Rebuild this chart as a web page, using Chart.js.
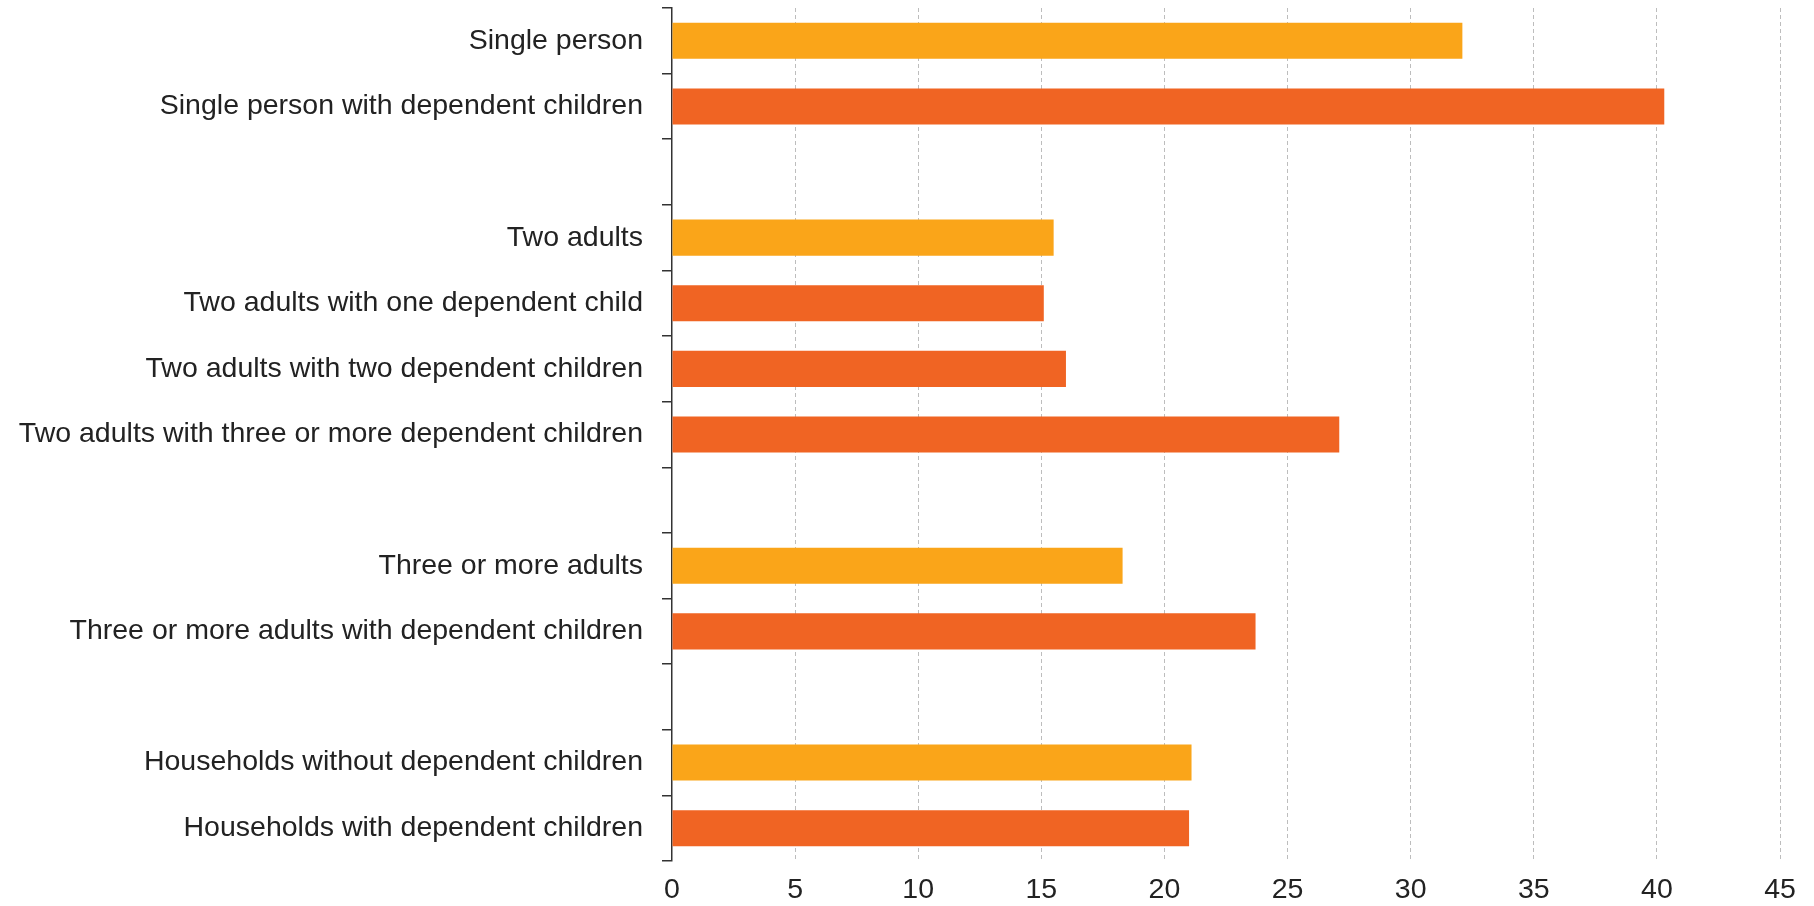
<!DOCTYPE html>
<html>
<head>
<meta charset="utf-8">
<script src="https://cdn.jsdelivr.net/npm/chart.js@4"></script>
<style>
html,body{margin:0;padding:0;background:#fff;}
#wrap{width:1814px;height:906px;position:relative;}
</style>
</head>
<body>
<div id="wrap"><canvas id="c" width="1814" height="906"></canvas></div>
<script>
// Household types (blank entries are the gaps between groups)
const categories = [
  "Single person",
  "Single person with dependent children",
  "",
  "Two adults",
  "Two adults with one dependent child",
  "Two adults with two dependent children",
  "Two adults with three or more dependent children",
  "",
  "Three or more adults",
  "Three or more adults with dependent children",
  "",
  "Households without dependent children",
  "Households with dependent children"
];
// Values (%)
const values = [32.1, 40.3, null, 15.5, 15.1, 16.0, 27.1, null, 18.3, 23.7, null, 21.1, 21.0];
// Whether the household has dependent children
const withChildren = [false, true, null, false, true, true, true, null, false, true, null, false, true];
// X axis ticks
const xTicks = [0, 5, 10, 15, 20, 25, 30, 35, 40, 45];

const COLOR_NO_CHILD = "#FAA519";
const COLOR_CHILD = "#F06423";
const FONT = "'Liberation Sans', Arial, sans-serif";

new Chart(document.getElementById("c"), {
  type: "bar",
  data: {
    labels: categories,
    datasets: [{
      data: values,
      backgroundColor: withChildren.map(w => w ? COLOR_CHILD : COLOR_NO_CHILD),
      borderWidth: 0,
      barPercentage: 0.55,
      categoryPercentage: 1.0
    }]
  },
  options: {
    indexAxis: "y",
    responsive: false,
    animation: false,
    devicePixelRatio: 1,
    layout: { padding: { top: 8, right: 34, bottom: 0, left: 0 } },
    plugins: { legend: { display: false }, tooltip: { enabled: false } },
    scales: {
      x: {
        type: "linear",
        min: xTicks[0],
        max: xTicks[xTicks.length - 1],
        afterBuildTicks: s => { s.ticks = xTicks.map(v => ({ value: v })); },
        afterFit: s => { s.height = 45; s.paddingLeft = 0; s.paddingRight = 0; },
        grid: {
          drawTicks: false,
          color: c => (c.tick && c.tick.value === 0) ? "rgba(0,0,0,0)" : "#bdbdbd",
          lineWidth: 1
        },
        border: { display: false, dash: [4, 3] },
        ticks: {
          padding: 12,
          color: "#222",
          font: { family: FONT, size: 28.5 }
        }
      },
      y: {
        type: "category",
        afterFit: s => { s.width = 672; s.paddingTop = 0; s.paddingBottom = 0; },
        grid: {
          offset: true,
          drawOnChartArea: false,
          drawTicks: true,
          tickLength: 10,
          color: "#333",
          lineWidth: 1.5
        },
        border: { display: true, color: "#333", width: 1.5 },
        ticks: {
          padding: 19,
          color: "#222",
          autoSkip: false,
          font: { family: FONT, size: 28.5 }
        }
      }
    }
  }
});
</script>
</body>
</html>
